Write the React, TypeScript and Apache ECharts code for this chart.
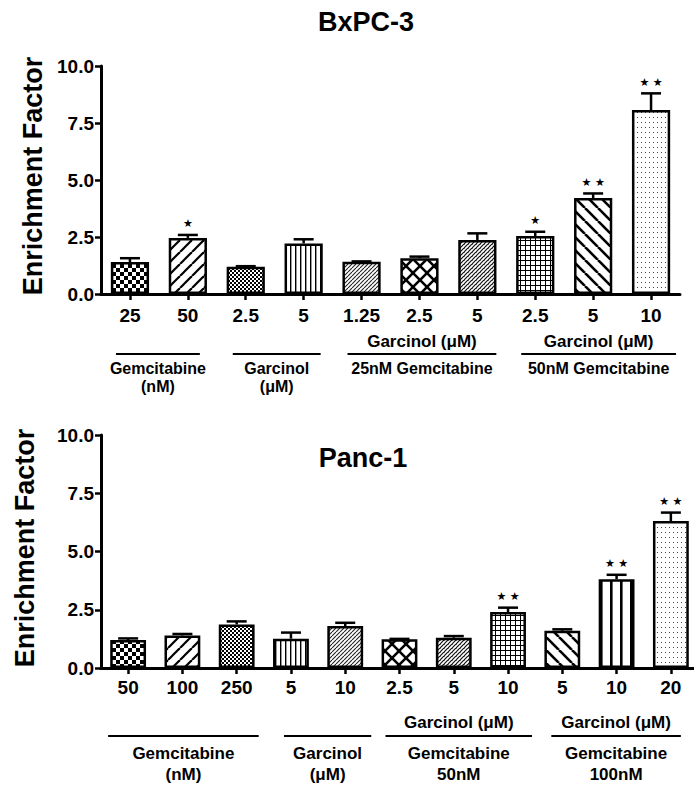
import React, { useEffect, useRef } from "react";
import * as echarts from "echarts";

// ---------- data ----------
const topCategories = ["25", "50", "2.5", "5", "1.25", "2.5", "5", "2.5", "5", "10"];
const topMeans = [1.4, 2.46, 1.19, 2.22, 1.41, 1.57, 2.37, 2.54, 4.21, 8.07];
const topErrors = [0.17, 0.13, 0.03, 0.18, 0.02, 0.07, 0.29, 0.19, 0.2, 0.73];
const topStars = [0, 1, 0, 0, 0, 0, 0, 1, 2, 2];
const topPatterns = ["checker", "wideSlash", "fineChecker", "vertLines", "fineSlash", "diamond", "denseSlash", "grid", "wideBackslash", "dots"];

const bottomCategories = ["50", "100", "250", "5", "10", "2.5", "5", "10", "5", "10", "20"];
const bottomMeans = [1.2, 1.4, 1.87, 1.26, 1.8, 1.23, 1.3, 2.4, 1.6, 3.81, 6.31];
const bottomErrors = [0.07, 0.06, 0.13, 0.26, 0.14, 0.02, 0.07, 0.19, 0.06, 0.19, 0.36];
const bottomStars = [0, 0, 0, 0, 0, 0, 0, 2, 0, 2, 2];
const bottomPatterns = ["checker", "wideSlash", "fineChecker", "vertLines", "fineSlash", "diamond", "denseSlash", "grid", "wideBackslash", "wideVert", "dots"];

const yMin = 0;
const yMax = 10;
const yInterval = 2.5;

const topGroups = [
  { from: 0, to: 1, upper: "", lower: ["Gemcitabine", "(nM)"] },
  { from: 2, to: 3, upper: "", lower: ["Garcinol", "(μM)"] },
  { from: 4, to: 6, upper: "Garcinol (μM)", lower: ["25nM Gemcitabine"] },
  { from: 7, to: 9, upper: "Garcinol (μM)", lower: ["50nM Gemcitabine"] },
];
const bottomGroups = [
  { from: 0, to: 2, upper: "", lower: ["Gemcitabine", "(nM)"] },
  { from: 3, to: 4, upper: "", lower: ["Garcinol", "(μM)"] },
  { from: 5, to: 7, upper: "Garcinol (μM)", lower: ["Gemcitabine", "50nM"] },
  { from: 8, to: 10, upper: "Garcinol (μM)", lower: ["Gemcitabine", "100nM"] },
];

const titles = ["BxPC-3", "Panc-1"];
const yAxisTitle = "Enrichment Factor";

// ---------- layout ----------
const FONT = "'Liberation Sans', Arial, Helvetica, sans-serif";
const topPads = [[14, 12], [13, 17], [14, 19], [14, 25]];
const bottomPads = [[20, 22], [7, 26], [14, 24], [11, 10]];

function makePattern(kind: string): HTMLCanvasElement {
  const c = document.createElement("canvas");
  const sizes: Record<string, [number, number]> = {
    checker: [8, 8],
    fineChecker: [4, 4],
    wideSlash: [12, 12],
    vertLines: [5, 5],
    fineSlash: [4, 4],
    diamond: [14, 14],
    denseSlash: [4, 4],
    grid: [5, 5],
    wideBackslash: [13, 13],
    dots: [4, 5],
    wideVert: [10, 10],
  };
  const [w, h] = sizes[kind] || [8, 8];
  c.width = w;
  c.height = h;
  const g = c.getContext("2d")!;
  g.fillStyle = "#fff";
  g.fillRect(0, 0, w, h);
  g.fillStyle = "#000";
  g.strokeStyle = "#000";
  const slash = (s: number, lw: number, color = "#000") => {
    g.strokeStyle = color;
    g.lineWidth = lw;
    for (let k = -1; k <= 1; k++) {
      g.beginPath();
      g.moveTo(k * s, s);
      g.lineTo(k * s + s, 0);
      g.stroke();
    }
  };
  const backslash = (s: number, lw: number, color = "#000") => {
    g.strokeStyle = color;
    g.lineWidth = lw;
    for (let k = -1; k <= 1; k++) {
      g.beginPath();
      g.moveTo(k * s, 0);
      g.lineTo(k * s + s, s);
      g.stroke();
    }
  };
  switch (kind) {
    case "checker":
      g.fillRect(0, 0, 4, 4);
      g.fillRect(4, 4, 4, 4);
      break;
    case "fineChecker":
      g.fillRect(0, 0, 2, 2);
      g.fillRect(2, 2, 2, 2);
      break;
    case "wideSlash":
      slash(12, 2.2);
      break;
    case "vertLines":
      g.fillRect(0, 0, 1.4, h);
      break;
    case "fineSlash":
      slash(4, 1.1, "#222");
      break;
    case "diamond":
      slash(14, 2.6);
      backslash(14, 2.6);
      break;
    case "denseSlash":
      slash(4, 1.2, "#111");
      g.fillStyle = "#666";
      g.fillRect(0, 0, 1, 1);
      break;
    case "grid":
      g.fillRect(0, 0, w, 1);
      g.fillRect(0, 0, 1, h);
      break;
    case "wideBackslash":
      backslash(13, 2.6);
      break;
    case "dots":
      g.fillStyle = "#444";
      g.fillRect(1, 2, 1, 1);
      break;
    case "wideVert":
      g.fillRect(0, 0, 2.6, h);
      break;
  }
  return c;
}

function renderErr(_params: any, api: any) {
  const idx = api.value(0);
  const mean = api.value(1);
  const err = api.value(2);
  const stars = api.value(3);
  const base = api.coord([idx, mean]);
  const top = api.coord([idx, mean + err]);
  const cap = 10;
  const children: any[] = [
    { type: "line", shape: { x1: base[0], y1: base[1], x2: top[0], y2: top[1] }, style: { stroke: "#000", lineWidth: 2.5 } },
    { type: "line", shape: { x1: top[0] - cap, y1: top[1], x2: top[0] + cap, y2: top[1] }, style: { stroke: "#000", lineWidth: 2.5 } },
  ];
  if (stars > 0) {
    children.push({
      type: "text",
      x: top[0],
      y: top[1] - 11,
      style: {
        text: stars === 1 ? "★" : "★ ★",
        fontSize: 11,
        fontFamily: "'DejaVu Sans', sans-serif",
        fill: "#000",
        align: "center",
        verticalAlign: "middle",
      },
    });
  }
  return { type: "group", children };
}

function xAxisCfg(gridIndex: number, data: string[], margin: number) {
  return {
    gridIndex,
    type: "category",
    data,
    axisLine: { show: true, lineStyle: { color: "#000", width: 3 } },
    axisTick: { show: true, alignWithLabel: true, length: 6, lineStyle: { color: "#000", width: 2.5 } },
    axisLabel: { interval: 0, margin, color: "#000", fontSize: 19, fontWeight: "bold", fontFamily: FONT },
    splitLine: { show: false },
  };
}

function yAxisCfg(gridIndex: number) {
  return {
    gridIndex,
    type: "value",
    min: yMin,
    max: yMax,
    interval: yInterval,
    axisLine: { show: true, lineStyle: { color: "#000", width: 3 } },
    axisTick: { show: true, length: 6, lineStyle: { color: "#000", width: 2.5 } },
    axisLabel: {
      margin: 7,
      color: "#000",
      fontSize: 19,
      fontWeight: "bold",
      fontFamily: FONT,
      formatter: (v: number) => v.toFixed(1),
    },
    splitLine: { show: false },
  };
}

function barSeries(axis: number, means: number[], patterns: string[]) {
  return {
    type: "bar",
    xAxisIndex: axis,
    yAxisIndex: axis,
    barWidth: "66%",
    data: means.map((v, i) => ({
      value: v,
      itemStyle: {
        color: { image: makePattern(patterns[i]), repeat: "repeat" },
        borderColor: "#000",
        borderWidth: 2.5,
      },
    })),
  };
}

function errSeries(axis: number, means: number[], errs: number[], stars: number[]) {
  return {
    type: "custom",
    xAxisIndex: axis,
    yAxisIndex: axis,
    z: 5,
    renderItem: renderErr,
    data: means.map((v, i) => [i, v, errs[i], stars[i]]),
  };
}

export default function App() {
  const ref = useRef<HTMLDivElement>(null);
  useEffect(() => {
    if (!ref.current) return;
    const chart = echarts.init(ref.current, undefined, { renderer: "svg" });
    chart.setOption({
      animation: false,
      backgroundColor: "#fff",
      grid: [
        { left: 101, top: 66, height: 228, right: 14, outerBoundsMode: "none" },
        { left: 101, top: 435, height: 233, right: -4, outerBoundsMode: "none" },
      ],
      xAxis: [xAxisCfg(0, topCategories, 12), xAxisCfg(1, bottomCategories, 10)],
      yAxis: [yAxisCfg(0), yAxisCfg(1)],
      series: [
        barSeries(0, topMeans, topPatterns),
        errSeries(0, topMeans, topErrors, topStars),
        barSeries(1, bottomMeans, bottomPatterns),
        errSeries(1, bottomMeans, bottomErrors, bottomStars),
      ],
    });

    const textStyle = (text: string, size: number) => ({
      text,
      fontSize: size,
      fontWeight: "bold",
      fontFamily: FONT,
      fill: "#000",
      align: "center",
      verticalAlign: "middle",
    });

    const graphics: any[] = [];
    const addGroups = (
      axis: number,
      groups: typeof topGroups,
      pads: number[][],
      upperY: number,
      lineY: number,
      lowerYs: number[],
      size: number
    ) => {
      groups.forEach((gr, gi) => {
        const x1 = (chart.convertToPixel({ xAxisIndex: axis } as any, gr.from) as unknown as number) - pads[gi][0];
        const x2 = (chart.convertToPixel({ xAxisIndex: axis } as any, gr.to) as unknown as number) + pads[gi][1];
        const cx = (x1 + x2) / 2;
        graphics.push({ type: "line", shape: { x1, y1: lineY, x2, y2: lineY }, style: { stroke: "#000", lineWidth: 2 } });
        if (gr.upper) graphics.push({ type: "text", x: cx, y: upperY, style: textStyle(gr.upper, 17) });
        gr.lower.forEach((t, li) => {
          graphics.push({ type: "text", x: cx, y: lowerYs[li], style: textStyle(t, size) });
        });
      });
    };
    addGroups(0, topGroups, topPads, 341, 354, [368, 386], 16);
    addGroups(1, bottomGroups, bottomPads, 722, 736, [753, 774], 17);

    graphics.push({ type: "text", x: 366, y: 22, style: textStyle(titles[0], 27) });
    graphics.push({ type: "text", x: 363, y: 458, style: textStyle(titles[1], 27) });
    graphics.push({ type: "text", x: 33, y: 176, rotation: Math.PI / 2, style: textStyle(yAxisTitle, 27) });
    graphics.push({ type: "text", x: 25, y: 548, rotation: Math.PI / 2, style: textStyle(yAxisTitle, 27) });

    chart.setOption({ graphic: graphics });
    return () => chart.dispose();
  }, []);
  return <div ref={ref} style={{ position: "absolute", left: 0, top: 0, width: 694, height: 788 }} />;
}
